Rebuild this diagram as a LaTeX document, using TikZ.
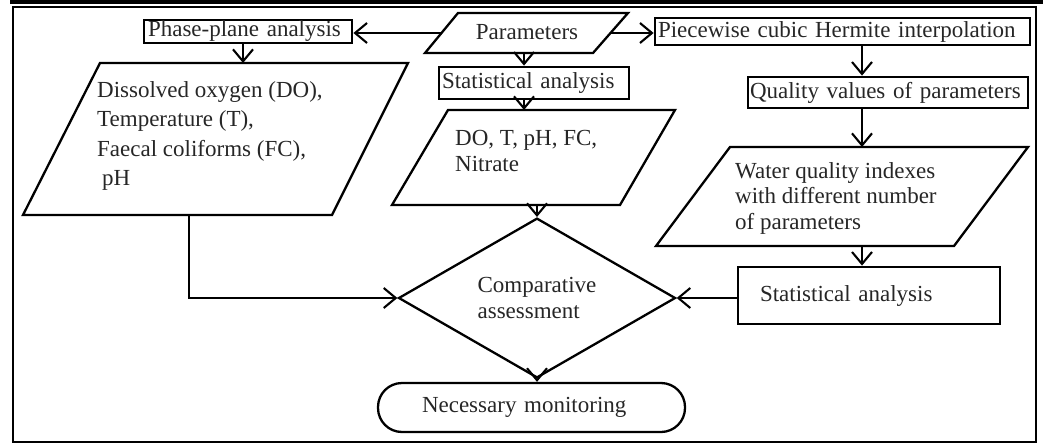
\documentclass[tikz,border=0pt]{standalone}
\usepackage{fontspec}
\setmainfont{Liberation Serif}
\usetikzlibrary{arrows.meta,shapes.geometric}
\begin{document}
\begin{tikzpicture}[x=1pt,y=-1pt,
  txt/.style={font=\fontsize{23}{25.5}\selectfont, text=black!85, inner sep=0pt},
  box/.style={draw, line width=2.8pt, txt, align=left, inner ysep=0pt},
  shp/.style={draw, line width=2.3pt, line join=miter},
  arr/.style={draw, line width=2.1pt, -{Straight Barb[length=12pt,width=20pt,line width=2.1pt]}}
]
\useasboundingbox (0,0) rectangle (1043,444);
% page rule and frame
\draw[line width=4pt] (10,2) -- (1043,2);
\draw[line width=2.4pt] (13,7) rectangle (1036,442);

% rectangles
\node[box, inner xsep=4pt, text width=200pt, minimum height=23pt] (phase) at (248,31.5) {Phase-plane analysis};
\node[box, inner xsep=3pt, text width=369pt, minimum height=27pt] (piece) at (842.5,31.5) {Piecewise cubic Hermite interpolation};
\node[box, inner xsep=2pt, text width=276pt, minimum height=31pt] (qual) at (888,92.5) {Quality values of parameters};
\node[box, inner xsep=3pt, text width=184pt, minimum height=32pt] (stata) at (534,83) {Statistical analysis};
\node[box, inner xsep=22pt, text width=218pt, minimum height=57pt] (statb) at (869,295.5) {Statistical analysis};

% parallelograms
\draw[shp] (458,13) -- (628,13) -- (593,53) -- (425,53) -- cycle;
\node[txt] (partext) at (527,32) {Parameters};
\coordinate (parL) at (442,33);
\coordinate (parR) at (610,33);
\coordinate (parB) at (524,53);

\draw[shp] (100,63) -- (408,63) -- (332,215) -- (23,215) -- cycle;
\node[txt, anchor=west, align=left, font=\fontsize{23}{29.5}\selectfont] (lptext) at (97,136)
  {Dissolved oxygen (DO),\\Temperature (T),\\Faecal coliforms (FC),\\\hspace{5pt}pH};
\coordinate (lpT) at (243,63);
\coordinate (lpB) at (189,215);

\draw[shp] (448,110) -- (675,110) -- (620,205) -- (392,205) -- cycle;
\node[txt, anchor=west, align=left] (dotext) at (455,151) {DO, T, pH, FC,\\Nitrate};
\coordinate (doT) at (524,110);
\coordinate (doB) at (537,205);

\draw[shp] (730,147) -- (1028,147) -- (954,246) -- (656,246) -- cycle;
\node[txt, anchor=west, align=left] (wqtext) at (735,198) {Water quality indexes\\with different number\\of parameters};
\coordinate (wqT) at (862,147);
\coordinate (wqB) at (862,246);

% decision and terminal
\node[draw, shape=diamond, line width=2.3pt, txt, align=left, minimum width=277pt, minimum height=143pt] (diam) at (537,298) {Comparative\\assessment};
\node[draw, line width=2.3pt, rounded corners=24pt, txt, align=left, inner xsep=44pt, text width=219pt, minimum height=49pt] (mon) at (531.5,407.5) {Necessary monitoring};

% connectors
\draw[arr] (parL) -- (phase.east |- parL);
\draw[arr] (parR) -- (piece.west |- parR);
\draw[arr] (parB) -- (parB |- stata.north);
\draw[arr] (doT |- stata.south) -- (doT);
\draw[arr] (lpT |- phase.south) -- (lpT);
\draw[arr] (lpB) |- (diam.west);
\draw[arr] (doB) -- (diam.north);
\draw[arr] (wqT |- piece.south) -- (wqT |- qual.north);
\draw[arr] (wqT |- qual.south) -- (wqT);
\draw[arr] (wqB) -- (wqB |- statb.north);
\draw[arr] (statb.west |- diam.east) -- (diam.east);
\draw[arr] (diam.south) -- (diam.south |- mon.north);
\end{tikzpicture}
\end{document}
